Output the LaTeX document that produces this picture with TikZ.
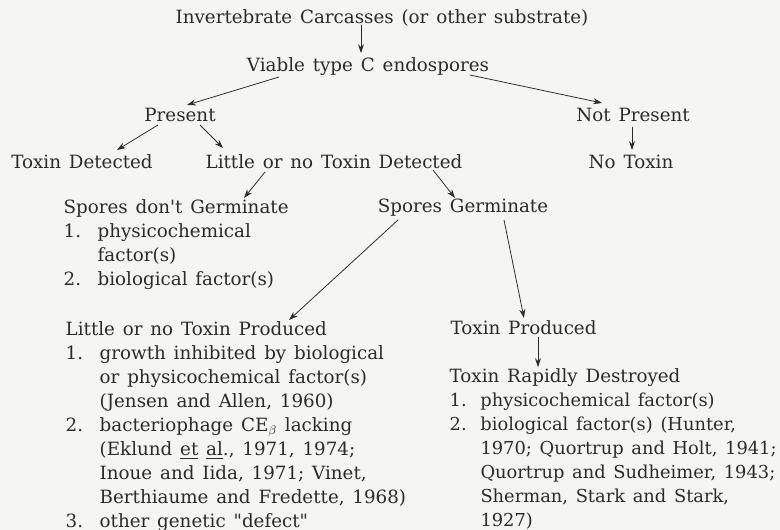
\documentclass[tikz,border=0pt]{standalone}
\usepackage{fontspec}
\setmainfont{DejaVu Serif}[WordSpace=1.35,Ligatures=TeXOff]
\usepackage{xcolor}
\definecolor{inkDark}{HTML}{2B2B2B}
\definecolor{paperBg}{HTML}{F5F5F3}
\usetikzlibrary{calc,arrows.meta}
\tikzset{%
  stepLabel/.style={%
    inner sep=1pt,
    text=inkDark,
    font=\fontsize{13}{17.07}\selectfont
  },
  headLabel/.style={%
    stepLabel,
    anchor=west
  },
  factorList/.style={%
    stepLabel,
    anchor=base west,
    align=left
  },
  flowArrow/.style={%
    -{Stealth[length=2.2mm,width=1.5mm]},
    line width=0.55pt,
    color=inkDark
  }
}

\begin{document}
\begin{tikzpicture}[x=0.025cm,y=-0.025cm]
  \fill[paperBg] (0,0) rectangle (780,530);
  \useasboundingbox (0,0) rectangle (780,530);

  % top of the chain
  \node[stepLabel] (carcass) at (382,18) {Invertebrate Carcasses (or other substrate)};
  \node[stepLabel] (viable) at (368,67) {Viable type C endospores};
  \node[stepLabel] (present) at (180,115) {Present};
  \node[stepLabel] (notpresent) at (633,115) {Not Present};

  % detection row
  \node[stepLabel] (detected) at (82,162) {Toxin Detected};
  \node[stepLabel] (littledet) at (334,162) {Little or no Toxin Detected};
  \node[stepLabel] (notoxin) at (631,162) {No Toxin};

  % germination
  \node[headLabel] (nogerm) at (62,208) {Spores don't Germinate};
  \node[factorList] (nogermlist) at ($(nogerm.base west)+(0,24)$) {%
    \begin{tabular}[t]{@{}p{0.85cm}@{}l@{}}
      1. & physicochemical\\
         & factor(s)\\
      2. & biological factor(s)
    \end{tabular}};
  \node[stepLabel] (germ) at (463,208) {Spores Germinate};

  % toxin production
  \node[headLabel] (lowprod) at (64,329) {Little or no Toxin Produced};
  \node[factorList] (lowprodlist) at ($(lowprod.base west)+(0,24)$) {%
    \begin{tabular}[t]{@{}p{0.85cm}@{}l@{}}
      1. & growth inhibited by biological\\
         & or physicochemical factor(s)\\
         & (Jensen and Allen, 1960)\\
      2. & bacteriophage CE$_\beta$ lacking\\
         & (Eklund \underline{et} \underline{al}., 1971, 1974;\\
         & Inoue and Iida, 1971; Vinet,\\
         & Berthiaume and Fredette, 1968)\\
      3. & other genetic "defect"
    \end{tabular}};
  \node[headLabel] (toxprod) at (449,328) {Toxin Produced};
  \node[headLabel] (destroyed) at (448,378) {Toxin Rapidly Destroyed};
  \node[factorList, font=\fontsize{12.7}{17.07}\selectfont] (destroyedlist) at ($(destroyed.base west)+(0,24)$) {%
    \begin{tabular}[t]{@{}p{0.77cm}@{}l@{}}
      1. & physicochemical factor(s)\\
      2. & biological factor(s) (Hunter,\\
         & 1970; Quortrup and Holt, 1941;\\
         & Quortrup and Sudheimer, 1943;\\
         & Sherman, Stark and Stark,\\
         & 1927)
    \end{tabular}};

  % connectors
  \draw[flowArrow] ($(carcass)+(-21,7)$) -- ($(viable)+(-7,-14)$);
  \draw[flowArrow] ($(viable)+(-89,10)$) -- ($(present)+(7,-10)$);
  \draw[flowArrow] ($(viable)+(102,8)$) -- ($(notpresent)+(-31,-12)$);
  \draw[flowArrow] ($(notpresent)+(-1,12)$) -- ($(notoxin)+(1,-12)$);
  \draw[flowArrow] ($(present)+(-22,10)$) -- ($(detected)+(35,-12)$);
  \draw[flowArrow] ($(present)+(20,10)$) -- ($(littledet)+(-111,-14)$);
  \draw[flowArrow] ($(littledet)+(-69,10)$) -- ($(nogerm.west)+(182,-10)$);
  \draw[flowArrow] ($(littledet)+(99,8)$) -- ($(germ)+(-8,-10)$);
  \draw[flowArrow] ($(germ)+(-65,12)$) -- ($(lowprod.west)+(225,-9)$);
  \draw[flowArrow] ($(germ)+(41,12)$) -- ($(toxprod.west)+(75,-10)$);
  \draw[flowArrow] ($(toxprod.west)+(89,9)$) -- ($(destroyed.west)+(90,-11)$);
\end{tikzpicture}
\end{document}
